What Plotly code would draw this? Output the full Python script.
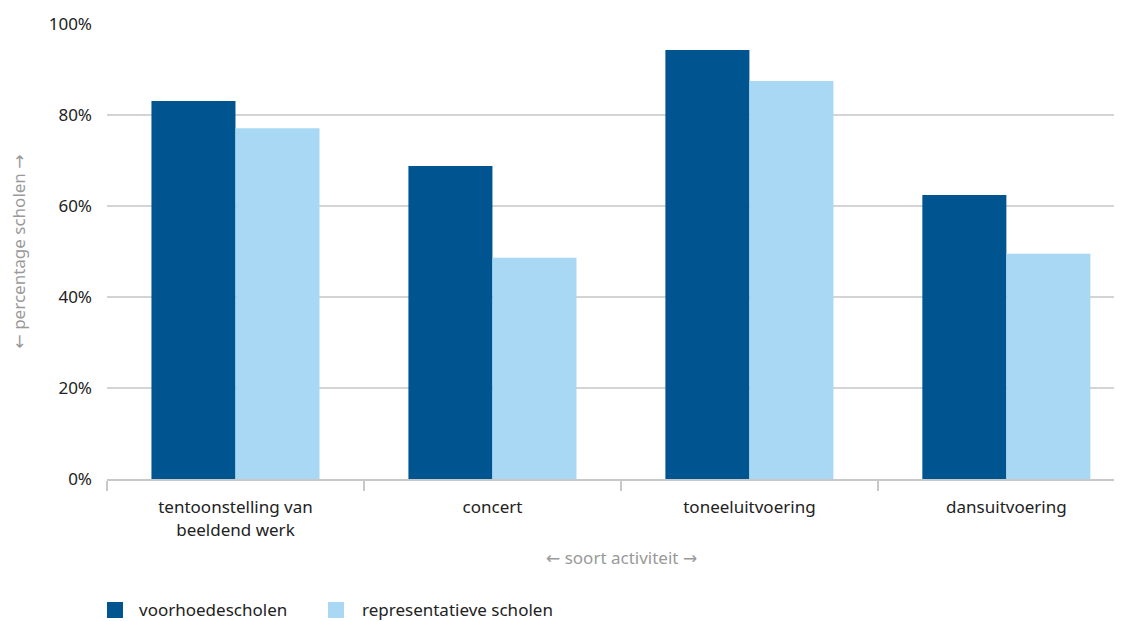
import plotly.graph_objects as go

categories = ["tentoonstelling van<br>beeldend werk", "concert", "toneeluitvoering", "dansuitvoering"]
voorhoede = [83.1, 68.8, 94.3, 62.4]
representatief = [77.1, 48.6, 87.5, 49.5]
series_names = ["voorhoedescholen", "representatieve scholen"]
y_ticks = [0, 20, 40, 60, 80, 100]
y_ticklabels = ["0%", "20%", "40%", "60%", "80%", "100%"]

DARK = "#00548f"
LIGHT = "#a8d8f3"
COLORS = [DARK, LIGHT]
FONT = "Noto Sans"

fig = go.Figure()
fig.add_trace(go.Bar(x=categories, y=voorhoede, name=series_names[0],
                     marker=dict(color=DARK, line=dict(width=0))))
fig.add_trace(go.Bar(x=categories, y=representatief, name=series_names[1],
                     marker=dict(color=LIGHT, line=dict(width=0))))

PLOT_W = 1015.0
PLOT_H = 455.0

def px_x(screen_x):
    return (screen_x - 107) / PLOT_W

def px_y(screen_y):
    return (479 - screen_y) / PLOT_H

def arrow(ch):
    return '<span style="font-family:DejaVu Sans">' + ch + '</span>'

# manual legend (squares + labels)
shapes = []
annotations = []
legend_sq_x = [107, 328]
legend_txt_x = [137, 360]
for i, name in enumerate(series_names):
    shapes.append(dict(type="rect", xref="paper", yref="paper",
                       x0=px_x(legend_sq_x[i]), x1=px_x(legend_sq_x[i] + 16),
                       y0=px_y(618), y1=px_y(602),
                       fillcolor=COLORS[i], line=dict(width=0)))
    annotations.append(dict(text=name, xref="paper", yref="paper",
                            x=px_x(legend_txt_x[i]), y=px_y(610),
                            xanchor="left", yanchor="middle", showarrow=False,
                            font=dict(family=FONT, size=17, color="#222222")))

annotations += [
    dict(text=arrow("←") + " soort activiteit " + arrow("→"), xref="paper", yref="paper",
         x=px_x(621), y=px_y(557), xanchor="center", yanchor="middle",
         showarrow=False, font=dict(family=FONT, size=17, color="#999999")),
    dict(text=arrow("←") + " percentage scholen " + arrow("→"), xref="paper", yref="paper",
         x=px_x(18), y=0.5, xanchor="center", yanchor="middle", textangle=-90,
         showarrow=False, font=dict(family=FONT, size=17, color="#999999")),
]

fig.update_layout(
    width=1122, height=621,
    margin=dict(l=99, r=8, t=16, b=150, autoexpand=False),
    paper_bgcolor="white", plot_bgcolor="white",
    barmode="group", bargap=0.346, bargroupgap=0,
    font=dict(family=FONT, size=17, color="#222222"),
    showlegend=False,
    xaxis=dict(range=[-0.5, 3.45], showgrid=False, showline=True, linecolor="#c8c8c8",
               linewidth=2, ticks="outside", tickson="boundaries", ticklen=10,
               tickcolor="#c8c8c8", tickwidth=2, ticklabelstandoff=12,
               tickfont=dict(size=17, color="#222222")),
    yaxis=dict(range=[0, 100], tickvals=y_ticks, ticktext=y_ticklabels,
               showgrid=True, gridcolor="#d4d4d4", gridwidth=2, zeroline=False,
               showline=False, ticks="", ticklabelstandoff=14,
               tickfont=dict(size=17, color="#222222")),
    shapes=shapes,
    annotations=annotations,
)

fig.write_html("out.html")
